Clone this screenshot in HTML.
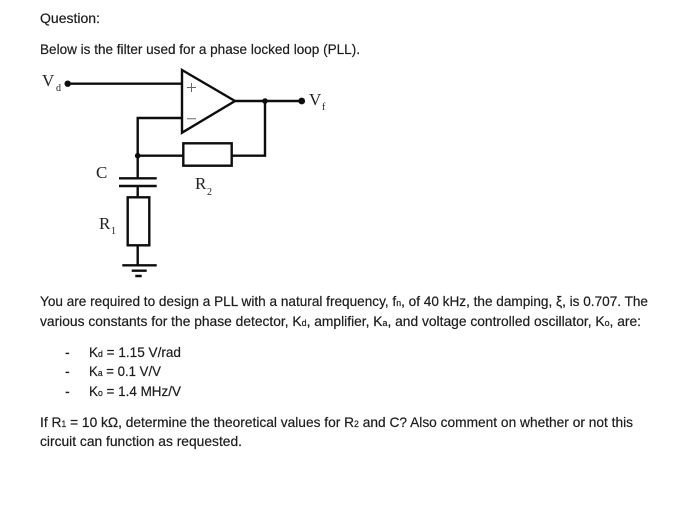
<!DOCTYPE html>
<html>
<head>
<meta charset="utf-8">
<style>
html,body{margin:0;padding:0;background:#fff;width:700px;height:522px;overflow:hidden}
svg{display:block}
.t{font-family:"Liberation Sans",sans-serif;font-size:14px;fill:#1c1c1c;stroke:#1c1c1c;stroke-width:0.2px}
.s{font-size:9px}
.m{font-family:"Liberation Serif",serif;font-size:17px;fill:#222}
.ms{font-family:"Liberation Serif",serif;font-size:10px;fill:#222}
</style>
</head>
<body>
<svg width="700" height="522" viewBox="0 0 700 522" xmlns="http://www.w3.org/2000/svg">
<defs><filter id="b" x="-5%" y="-5%" width="110%" height="110%"><feGaussianBlur stdDeviation="0.35"/></filter></defs>
<rect width="700" height="522" fill="#fff"/>
<g filter="url(#b)">
<text class="t" x="40" y="23" textLength="60" lengthAdjust="spacingAndGlyphs">Question:</text>
<text class="t" x="40" y="54" textLength="320" lengthAdjust="spacingAndGlyphs">Below is the filter used for a phase locked loop (PLL).</text>

<g fill="none" stroke="#111" stroke-width="2.4">
<path d="M67.7 83.7H182"/>
<path d="M182 70L235 101L182 132.7Z"/>
<path d="M235 101H301.7"/>
<path d="M265 101V155.7H231.7"/>
<rect x="183.3" y="143.3" width="48.4" height="22.4"/>
<path d="M183.3 155.7H137.7"/>
<path d="M182 118H137.7V178.3"/>
<path d="M119 178.3H156.7M119 186H156.7"/>
<path d="M137.7 186V197.3"/>
<rect x="127.7" y="197.3" width="21.6" height="48"/>
<path d="M137.7 245.3V265.3"/>
<path d="M122.3 265.3H156.7M131.7 270.7H146.7M135.3 276H141.7"/>
</g>
<path d="M187 87.5H196M191.5 83V92M187 118.7H196" fill="none" stroke="#666" stroke-width="1"/>
<circle cx="67.7" cy="83.7" r="3.2" fill="#111"/>
<circle cx="301.7" cy="101" r="3.4" fill="#111"/>
<circle cx="265" cy="101" r="2.8" fill="#111"/>
<circle cx="137.7" cy="155.7" r="2.8" fill="#111"/>

<text class="m" x="42" y="86">V</text><text class="ms" x="56" y="91">d</text>
<text class="m" x="309" y="105">V</text><text class="ms" x="322" y="110">f</text>
<text class="m" x="96" y="178">C</text>
<text class="m" x="195" y="189">R</text><text class="ms" x="207" y="195">2</text>
<text class="m" x="99" y="229">R</text><text class="ms" x="111" y="234">1</text>

<text class="t" x="40" y="306" textLength="608" lengthAdjust="spacingAndGlyphs">You are required to design a PLL with a natural frequency, f<tspan class="s">n</tspan>, of 40 kHz, the damping, ξ, is 0.707. The</text>
<text class="t" x="40" y="326" textLength="601" lengthAdjust="spacingAndGlyphs">various constants for the phase detector, K<tspan class="s">d</tspan>, amplifier, K<tspan class="s">a</tspan>, and voltage controlled oscillator, K<tspan class="s">o</tspan>, are:</text>

<text class="t" x="65" y="357">-</text>
<text class="t" x="65" y="376">-</text>
<text class="t" x="65" y="396">-</text>
<text class="t" x="89" y="357" textLength="92" lengthAdjust="spacingAndGlyphs">K<tspan class="s">d</tspan> = 1.15 V/rad</text>
<text class="t" x="89" y="376" textLength="72" lengthAdjust="spacingAndGlyphs">K<tspan class="s">a</tspan> = 0.1 V/V</text>
<text class="t" x="89" y="396" textLength="92" lengthAdjust="spacingAndGlyphs">K<tspan class="s">o</tspan> = 1.4 MHz/V</text>

<text class="t" x="40" y="427" textLength="593" lengthAdjust="spacingAndGlyphs">If R<tspan class="s">1</tspan> = 10 kΩ, determine the theoretical values for R<tspan class="s">2</tspan> and C? Also comment on whether or not this</text>
<text class="t" x="40" y="446" textLength="202" lengthAdjust="spacingAndGlyphs">circuit can function as requested.</text>
</g>
</svg>
</body>
</html>
